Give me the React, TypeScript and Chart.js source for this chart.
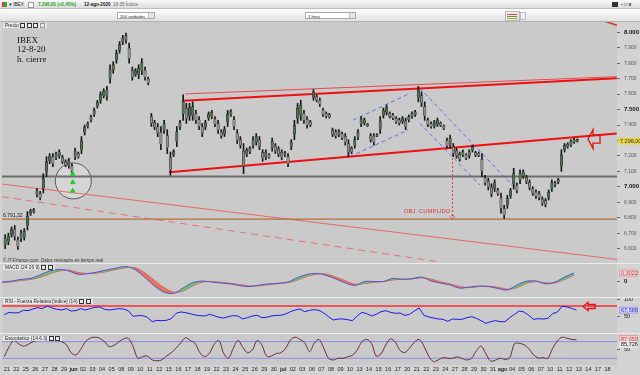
import React, { useEffect, useRef } from 'react';
import { Chart, registerables } from 'chart.js';

Chart.register(...registerables);

// ---------------- data (x = trading-day index, 0 = 21 May 2020) ----------------
const dayLabels = ['21','22','25','26','27','28','29','jun','02','03','04','05','08','09','10','11','12','15','16','17','18','19','22','23','24','25','26','29','30','jul','02','03','06','07','08','09','10','13','14','15','16','17','20','21','22','23','24','27','28','29','30','31','ago','04','05','06','07','10','11','12','13','14','17','18'];
const monthLabels = ['jun', 'jul', 'ago'];

// hourly price ranges grouped in thirds of a session; first slot = last third of 20 May
const slotStart = -1;
const slotLow = [
  6600, 6625, 6675, 6655, 6595, 6645, 6655, 6720, 6815, 6830, 6935,
  6915, 6960, 7065, 7150, 7130, 7175, 7185, 7150, 7130, 7120,
  7085, 7175, 7185, 7215, 7335, 7380, 7420, 7455, 7510, 7540,
  7575, 7560, 7670, 7735, 7800, 7865, 7920, 7930, 7800, 7690,
  7715, 7700, 7725, 7690, 7660, 7390, 7370, 7325, 7240, 7345,
  7215, 7075, 7195, 7260, 7370, 7430, 7410, 7430, 7430, 7410,
  7370, 7325, 7370, 7430, 7440, 7390, 7345, 7315, 7325, 7390,
  7455, 7370, 7280, 7250, 7085, 7195, 7215, 7250, 7270, 7240,
  7165, 7175, 7185, 7230, 7215, 7195, 7175, 7195, 7130, 7240,
  7305, 7410, 7430, 7410, 7380, 7390, 7560, 7550, 7520, 7455,
  7445, 7445, 7325, 7315, 7325, 7305, 7270, 7195, 7215, 7250,
  7305, 7390, 7400, 7390, 7290, 7270, 7325, 7345, 7445, 7465,
  7445, 7435, 7410, 7400, 7410, 7370, 7420, 7445, 7455, 7550,
  7520, 7430, 7390, 7380, 7380, 7390, 7390, 7370, 7250, 7250,
  7195, 7185, 7165, 7195, 7175, 7185, 7225, 7195, 7195, 7065,
  7010, 6980, 6935, 6970, 6945, 6830, 6795, 6860, 6925, 6985,
  6960, 7020, 7055, 7020, 6980, 6945, 6925, 6915, 6880, 6870,
  6915, 6970, 7000, 7020, 7100, 7225, 7250, 7260, 7280, 7290,
];
const slotHigh = [
  6690, 6700, 6740, 6750, 6675, 6720, 6730, 6840, 6855, 6860, 6990,
  6970, 7085, 7195, 7215, 7215, 7225, 7240, 7205, 7175, 7185,
  7150, 7250, 7225, 7325, 7400, 7420, 7465, 7510, 7560, 7615,
  7635, 7650, 7790, 7810, 7885, 7940, 7980, 7995, 7930, 7775,
  7765, 7790, 7830, 7775, 7710, 7475, 7430, 7410, 7390, 7430,
  7370, 7225, 7240, 7390, 7430, 7595, 7540, 7540, 7550, 7495,
  7455, 7410, 7430, 7485, 7495, 7455, 7430, 7370, 7390, 7495,
  7500, 7455, 7370, 7325, 7280, 7250, 7260, 7325, 7345, 7325,
  7240, 7240, 7215, 7315, 7280, 7260, 7240, 7230, 7215, 7305,
  7430, 7540, 7560, 7495, 7455, 7430, 7630, 7595, 7575, 7510,
  7485, 7475, 7380, 7370, 7370, 7355, 7345, 7305, 7260, 7325,
  7370, 7455, 7445, 7410, 7345, 7345, 7345, 7455, 7510, 7530,
  7485, 7475, 7455, 7445, 7455, 7445, 7465, 7485, 7495, 7650,
  7615, 7550, 7445, 7420, 7430, 7445, 7420, 7400, 7315, 7335,
  7280, 7250, 7225, 7240, 7215, 7240, 7270, 7230, 7225, 7215,
  7075, 7055, 7020, 7045, 6990, 6960, 6880, 6945, 6990, 7120,
  7025, 7110, 7110, 7075, 7045, 7000, 6980, 6970, 6935, 6925,
  6980, 7045, 7035, 7055, 7240, 7280, 7285, 7305, 7315, 7310,
];
const priceTicks = [6600, 6700, 6800, 6900, 7000, 7100, 7200, 7300, 7400, 7500, 7600, 7700, 7800, 7900, 8000];
const lastPrice = 7296;
const supportLevel = 7067;
const targetLevel = 6791.32;

// trend lines drawn on the chart: [dayIndex, price] end points
const upperChannelThick = [[18.48, 7557], [63.97, 7703]];
const upperChannelThin = [[18.69, 7601], [63.97, 7713]];
const lowerChannel = [[17.01, 7094], [63.97, 7345]];
const longSupport = [[-0.5, 7018], [64, 6530]];
const longSupportDashed = [[-0.5, 6936], [45.5, 6513]];
const topCornerLine = [[62.3, 8080], [64, 8045]];
const risingUpper = [[36.33, 7432], [42.28, 7605]];
const risingLower = [[35.99, 7195], [42.1, 7368]];
const fallingUpper = [[43.32, 7638], [53.1, 7005]];
const fallingLower = [[43.32, 7411], [49.61, 7012]];
const objectiveX = 46.75;
const objectiveRange = [7264, 6806];
const circleCenter = [6.98, 7038];
const greenArrows = [[6.92, 7083], [6.92, 7029], [6.92, 6974]];
const priceArrowTip = [60.96, 7309];

// indicators: MACD daily (day -1 .. 59, mid-session)
const macdValues = [-0.04, 0.00, 0.06, 0.10, 0.23, 0.38, 0.44, 0.38, 0.25, 0.28, 0.34, 0.42, 0.49, 0.55, 0.42, 0.13, -0.19, -0.42, -0.47, -0.26, -0.06, 0.00, -0.04, -0.08, -0.11, -0.18, -0.21, -0.15, -0.11, -0.08, -0.04, 0.13, 0.25, 0.29, 0.21, 0.08, -0.07, -0.17, -0.02, -0.02, -0.02, 0.10, 0.06, 0.09, 0.15, 0.00, -0.08, -0.15, -0.27, -0.23, -0.19, -0.21, -0.28, -0.34, -0.15, -0.01, 0.00, -0.11, -0.04, 0.15, 0.30];
const macdSignal = [-0.06, -0.03, 0.02, 0.06, 0.14, 0.27, 0.38, 0.41, 0.32, 0.28, 0.30, 0.36, 0.44, 0.50, 0.50, 0.30, 0.02, -0.25, -0.42, -0.38, -0.18, -0.04, -0.02, -0.05, -0.09, -0.14, -0.19, -0.18, -0.13, -0.10, -0.06, 0.04, 0.18, 0.26, 0.26, 0.15, 0.01, -0.12, -0.10, -0.04, -0.02, 0.04, 0.07, 0.08, 0.12, 0.07, -0.03, -0.11, -0.21, -0.25, -0.21, -0.20, -0.24, -0.31, -0.25, -0.09, -0.02, -0.07, -0.07, 0.06, 0.22];
const macdLast = 0.3022;

// RSI and stochastic, half-session samples (first = afternoon of 20 May)
const rsiValues = [54, 61, 59, 60, 67, 66, 71, 75, 72, 80, 74, 70, 68, 72, 65, 66, 72, 68, 72, 76, 77, 70, 68, 70, 72, 71, 66, 49, 51, 51, 46, 33, 37, 36, 37, 42, 58, 62, 60, 57, 53, 51, 50, 55, 51, 46, 44, 48, 51, 50, 41, 45, 50, 52, 45, 46, 50, 52, 52, 56, 63, 68, 71, 63, 67, 69, 67, 59, 48, 38, 41, 41, 39, 36, 50, 61, 57, 50, 55, 63, 66, 61, 58, 59, 52, 55, 65, 74, 52, 47, 44, 41, 40, 34, 41, 40, 40, 45, 48, 43, 36, 28, 33, 36, 33, 33, 45, 55, 65, 62, 52, 40, 42, 41, 43, 57, 62, 79, 77, 73, 67.6];
const rsiLast = 67.586;
const rsiLevel = 80;
const rsiArrowTip = [60.44, 78.4];
const stochValues = [26, 62, 84, 72, 64, 70, 80, 84, 86, 86, 86, 85, 80, 69, 40, 32, 52, 80, 93, 96, 92, 80, 62, 67, 79, 90, 92, 62, 20, 26, 28, 14, 11, 14, 28, 40, 56, 76, 94, 84, 74, 40, 26, 38, 70, 84, 38, 20, 56, 84, 60, 40, 50, 84, 68, 28, 28, 37, 40, 56, 86, 96, 88, 76, 44, 74, 88, 56, 20, 14, 20, 20, 25, 31, 50, 80, 88, 74, 28, 36, 68, 90, 78, 48, 41, 57, 78, 88, 64, 28, 8, 14, 22, 20, 20, 25, 19, 14, 20, 47, 64, 36, 10, 13, 20, 16, 22, 73, 74, 69, 55, 32, 21, 22, 20, 56, 82, 96, 92, 88, 87];
const stochK = 87.05;
const stochD = 85.726;
const stochLevels = [80, 20];

// ---------------- styling ----------------
const NARROW = "'Liberation Sans Narrow','Liberation Sans',Arial,sans-serif";
const PLOT_BG = '#cacaca';
const AXIS_BG = '#d3d3d3';
const X_MIN = -0.5;
const X_MAX = 64;
const AXIS_W = 23;

const fmtThousands = (v: number) => Math.round(v).toString().replace(/\B(?=(\d{3})+(?!\d))/g, '.');
const fmtDec = (v: number, d: number) => v.toFixed(d).replace('.', ',');
const pts = (arr: number[][]) => arr.map(([x, y]) => ({ x, y }));

const bgPlugin = {
  id: 'panelBg',
  beforeDraw(chart: any) {
    const { ctx, chartArea: a, width, height } = chart;
    ctx.save();
    ctx.fillStyle = AXIS_BG;
    ctx.fillRect(0, 0, width, height);
    ctx.fillStyle = PLOT_BG;
    ctx.fillRect(a.left, a.top, a.right - a.left, a.bottom - a.top);
    ctx.restore();
  },
};

const baseOptions = () => ({
  responsive: false, animation: false, devicePixelRatio: 1, events: [],
  layout: { autoPadding: false, padding: { left: 2, right: 0, top: 0, bottom: 0 } },
  plugins: { legend: { display: false }, tooltip: { enabled: false } },
});

function hiddenX() {
  return { type: 'linear', min: X_MIN, max: X_MAX, offset: false, display: false };
}

function rightY(min: number, max: number, ticks: number[], label: (v: number) => string, font?: any, color?: any) {
  return {
    type: 'linear', position: 'right', min, max,
    afterBuildTicks: (s: any) => { s.ticks = ticks.map((v) => ({ value: v })); },
    afterFit: (s: any) => { s.width = AXIS_W; s.paddingTop = 0; s.paddingBottom = 0; },
    grid: { drawOnChartArea: false, drawTicks: true, tickLength: 3, color: '#6a6a6a' },
    border: { display: false },
    ticks: { padding: 4, callback: (v: any) => label(Number(v)), font: font || { size: 5.5, family: NARROW }, color: color || '#333' },
  };
}

function line(data: any[], color: string, width: number, dash: number[] = [], order = 3) {
  return { type: 'line', data, borderColor: color, borderWidth: width, borderDash: dash, pointRadius: 0, fill: false, tension: 0, order };
}

function valueBox(chart: any, value: number, text: string, fill: string, stroke: string, color: string, dy = 0) {
  const { ctx, scales, chartArea } = chart;
  const py = scales.y.getPixelForValue(value) + dy;
  const x0 = chartArea.right + 2;
  ctx.save();
  ctx.fillStyle = fill;
  ctx.fillRect(x0, py - 3.5, 19, 7);
  if (stroke) {
    ctx.strokeStyle = stroke;
    ctx.lineWidth = 0.7;
    ctx.strokeRect(x0 + 0.5, py - 3, 18, 6);
  }
  ctx.fillStyle = color;
  ctx.font = `5.5px ${NARROW}`;
  ctx.textBaseline = 'middle';
  ctx.textAlign = 'left';
  ctx.fillText(text, x0 + 2, py + 0.3);
  ctx.restore();
}

function leftArrow(ctx: any, tx: number, ty: number, headLen: number, headHalf: number, shaftHalf: number, shaftLen: number) {
  ctx.save();
  ctx.strokeStyle = '#e01010';
  ctx.lineWidth = 1.3;
  ctx.beginPath();
  ctx.moveTo(tx, ty);
  ctx.lineTo(tx + headLen, ty - headHalf);
  ctx.lineTo(tx + headLen, ty - shaftHalf);
  ctx.lineTo(tx + headLen + shaftLen, ty - shaftHalf);
  ctx.lineTo(tx + headLen + shaftLen, ty + shaftHalf);
  ctx.lineTo(tx + headLen, ty + shaftHalf);
  ctx.lineTo(tx + headLen, ty + headHalf);
  ctx.closePath();
  ctx.stroke();
  ctx.restore();
}

const mainNotes = {
  id: 'mainNotes',
  afterDatasetsDraw(chart: any) {
    const { ctx, scales: { x, y }, chartArea } = chart;
    ctx.save();
    ctx.font = `5px ${NARROW}`;
    ctx.fillStyle = '#222';
    ctx.textAlign = 'left';
    ctx.textBaseline = 'bottom';
    ctx.fillText(fmtDec(targetLevel, 2).replace(/^(\d)(\d{3})/, '$1.$2'), chartArea.left + 1, y.getPixelForValue(targetLevel) - 1);

    const ox = x.getPixelForValue(objectiveX);
    const oy = y.getPixelForValue(objectiveRange[1]);
    ctx.font = '6px Arial';
    ctx.fillStyle = '#e03a3a';
    ctx.textAlign = 'right';
    ctx.fillText('OBJ. CUMPLIDO', ox - 2, oy - 2);
    ctx.strokeStyle = '#e03a3a';
    ctx.lineWidth = 0.8;
    ctx.beginPath();
    ctx.moveTo(ox, oy - 2); ctx.lineTo(ox + 2, oy); ctx.lineTo(ox, oy + 2); ctx.lineTo(ox - 2, oy); ctx.closePath();
    ctx.stroke();

    leftArrow(ctx, x.getPixelForValue(priceArrowTip[0]), y.getPixelForValue(priceArrowTip[1]), 5, 9.5, 4, 7);

    const ly = y.getPixelForValue(lastPrice);
    ctx.fillStyle = '#e6d64c';
    ctx.fillRect(chartArea.right + 1, ly - 3.5, 22, 7);
    ctx.fillStyle = '#333';
    ctx.font = `5.5px ${NARROW}`;
    ctx.textAlign = 'left';
    ctx.textBaseline = 'middle';
    ctx.fillText(fmtDec(lastPrice, 2).replace(/^(\d)(\d{3})/, '$1.$2'), chartArea.right + 3, ly + 0.3);
    ctx.restore();
  },
};

function mainConfig(): any {
  const xs = slotLow.map((_, k) => (slotStart + k + 0.5) / 3);
  const wicks = slotLow.map((lo, k) => ({ x: xs[k], y: [lo, slotHigh[k]] }));
  const bodies = slotLow.map((lo, k) => {
    const q = (slotHigh[k] - lo) / 4;
    return { x: xs[k], y: [lo + q, slotHigh[k] - q] };
  });
  const colors = slotLow.map((lo, k) => {
    const mid = (lo + slotHigh[k]) / 2;
    const prev = k > 0 ? (slotLow[k - 1] + slotHigh[k - 1]) / 2 : mid;
    return mid >= prev ? '#4f7555' : '#8f8f8f';
  });
  const bold = (c: any) => c.tick && c.tick.value % 500 === 0;
  return {
    type: 'bar',
    data: {
      datasets: [
        { type: 'bar', data: bodies, backgroundColor: colors, borderColor: '#1e1e1e', borderWidth: 0.5, barThickness: 2.4, order: 0 },
        { type: 'bar', data: wicks, backgroundColor: '#161616', borderWidth: 0, barThickness: 1, order: 1 },
        line(pts([[X_MIN, supportLevel], [X_MAX, supportLevel]]), '#6c6c6c', 2),
        line(pts([[X_MIN, targetLevel], [X_MAX, targetLevel]]), '#b06e3c', 1.2),
        line(pts(longSupport), '#e46a6a', 1),
        line(pts(longSupportDashed), '#e87272', 1, [7, 5]),
        line(pts(upperChannelThin), '#e84a4a', 1),
        line(pts(upperChannelThick), '#ee1010', 2),
        line(pts(lowerChannel), '#ee1010', 2),
        line(pts(topCornerLine), '#e02a2a', 1.5),
        line(pts(risingUpper), '#6b6bea', 1, [4, 3]),
        line(pts(risingLower), '#6b6bea', 1, [4, 3]),
        line(pts(fallingUpper), '#6b6bea', 1, [4, 3]),
        line(pts(fallingLower), '#6b6bea', 1, [4, 3]),
        line(pts([[objectiveX, objectiveRange[0]], [objectiveX, objectiveRange[1]]]), '#e04040', 1, [2, 2]),
        { type: 'line', data: pts([circleCenter]), showLine: false, pointRadius: 18, pointBackgroundColor: 'rgba(236,236,236,0.35)', pointBorderColor: '#5a5a5a', pointBorderWidth: 1, order: 4 },
        { type: 'line', data: pts(greenArrows), showLine: false, pointStyle: 'triangle', pointRadius: 2.6, pointBackgroundColor: '#22d022', pointBorderColor: '#22d022', order: -1 },
      ],
    },
    options: {
      ...baseOptions(),
      datasets: { bar: { grouped: false } },
      scales: {
        x: hiddenX(),
        y: rightY(6506.8, 8066.7, priceTicks, fmtThousands,
          (c: any) => (bold(c) ? { size: 6, weight: 'bold', family: NARROW } : { size: 5, family: NARROW }),
          (c: any) => (bold(c) ? '#111' : '#555')),
      },
    },
    plugins: [bgPlugin, mainNotes],
  };
}

function macdConfig(): any {
  return {
    type: 'line',
    data: {
      datasets: [
        { data: macdValues.map((v, i) => ({ x: i - 1 + 0.5, y: v })), borderColor: '#5656cc', borderWidth: 1, pointRadius: 0, tension: 0.3,
          fill: { target: 1, above: 'rgba(96,196,110,0.95)', below: 'rgba(232,110,92,0.95)' } },
        { data: macdSignal.map((v, i) => ({ x: i - 1 + 0.5, y: v })), borderColor: '#c85a5a', borderWidth: 1, pointRadius: 0, tension: 0.3, fill: false },
      ],
    },
    options: {
      ...baseOptions(),
      scales: { x: hiddenX(), y: rightY(-0.604, 0.642, [0], (v) => fmtDec(v, 0), { size: 6, weight: 'bold', family: NARROW }, '#111') },
    },
    plugins: [bgPlugin, { id: 'macdBox', afterDatasetsDraw: (c: any) => valueBox(c, macdLast, fmtDec(macdLast, 4), '#f0d2d2', '#d88', '#c04848') }],
  };
}

function rsiConfig(): any {
  return {
    type: 'line',
    data: {
      datasets: [
        { data: rsiValues.map((v, k) => ({ x: (k - 1 + 0.5) / 2, y: v })), borderColor: '#1818f0', borderWidth: 1, pointRadius: 0, tension: 0, fill: false, order: 0 },
        line(pts([[X_MIN, rsiLevel], [X_MAX, rsiLevel]]), '#ee5656', 2),
      ],
    },
    options: {
      ...baseOptions(),
      scales: { x: hiddenX(), y: rightY(-0.9, 103.9, [50, 100], (v) => String(v), { size: 5.5, family: NARROW }, '#222') },
    },
    plugins: [bgPlugin, {
      id: 'rsiNotes',
      afterDatasetsDraw: (c: any) => {
        valueBox(c, rsiLast, fmtDec(rsiLast, 3), '#d4d4f2', '#8a8ae0', '#2a2ad0');
        leftArrow(c.ctx, c.scales.x.getPixelForValue(rsiArrowTip[0]), c.scales.y.getPixelForValue(rsiArrowTip[1]), 5, 4.2, 2, 7);
      },
    }],
  };
}

function stochConfig(): any {
  return {
    type: 'line',
    data: {
      datasets: [
        { data: stochValues.map((v, k) => ({ x: (k - 1 + 0.5) / 2, y: v })), borderColor: '#6a2e2e', borderWidth: 1, pointRadius: 0, tension: 0.35, fill: false, order: 0 },
        ...stochLevels.map((lv) => line(pts([[X_MIN, lv], [X_MAX, lv]]), '#8c8ce8', 1)),
      ],
    },
    options: {
      ...baseOptions(),
      scales: {
        x: {
          type: 'linear', min: X_MIN, max: X_MAX, offset: false, position: 'bottom',
          afterBuildTicks: (s: any) => { s.ticks = dayLabels.map((_, i) => ({ value: i })); },
          afterFit: (s: any) => { s.height = 10; s.paddingLeft = 0; s.paddingRight = 0; },
          grid: { display: false, drawTicks: false, tickLength: 0 }, border: { display: false },
          ticks: {
            autoSkip: false, maxRotation: 0, minRotation: 0, padding: 1,
            callback: (v: any) => dayLabels[Math.round(Number(v))] ?? '',
            font: (c: any) => ({ size: 5.5, family: NARROW, weight: c.tick && monthLabels.includes(dayLabels[c.tick.value]) ? 'bold' : 'normal' }),
            color: '#222',
          },
        },
        y: rightY(-4.3, 107.6, [50], (v) => String(v), { size: 5.5, family: NARROW }, '#222'),
      },
    },
    plugins: [bgPlugin, {
      id: 'stochNotes',
      afterDatasetsDraw: (c: any) => {
        valueBox(c, stochK, fmtDec(stochK, 3), '#f0d2d2', '#d88', '#c04848', -1);
        valueBox(c, stochD, fmtDec(stochD, 3), '#e4e4e4', '', '#222', 4.5);
      },
    }],
  };
}

// ---------------- component ----------------
const tiny: React.CSSProperties = { position: 'absolute', font: '4.6px Arial', lineHeight: '5px', whiteSpace: 'nowrap', color: '#222' };
const tag: React.CSSProperties = { position: 'absolute', left: 3, font: '4.8px Arial', lineHeight: '5.5px', color: '#222', background: 'rgba(236,236,236,0.9)', padding: '0 2px', whiteSpace: 'nowrap' };
const iconBox: React.CSSProperties = { display: 'inline-block', width: 3, height: 3, border: '0.8px solid #333', marginLeft: 1.5, verticalAlign: 'middle' };

export default function App() {
  const mainRef = useRef<HTMLCanvasElement>(null);
  const macdRef = useRef<HTMLCanvasElement>(null);
  const rsiRef = useRef<HTMLCanvasElement>(null);
  const stochRef = useRef<HTMLCanvasElement>(null);

  useEffect(() => {
    document.body.style.margin = '0';
    const charts = [
      new Chart(mainRef.current as HTMLCanvasElement, mainConfig()),
      new Chart(macdRef.current as HTMLCanvasElement, macdConfig()),
      new Chart(rsiRef.current as HTMLCanvasElement, rsiConfig()),
      new Chart(stochRef.current as HTMLCanvasElement, stochConfig()),
    ];
    return () => charts.forEach((c) => c.destroy());
  }, []);

  const cv = (top: number, h: number): React.CSSProperties => ({ position: 'absolute', left: 0, top, width: 640, height: h });

  return (
    <div style={{ position: 'fixed', left: 0, top: 0, width: 640, height: 375, background: '#ececec', overflow: 'hidden' }}>
      {/* title bar */}
      <div style={{ position: 'absolute', left: 0, top: 0, width: 640, height: 9, background: 'linear-gradient(#f8f8f8,#dcdcdc)', borderBottom: '1px solid #bdbdbd', boxSizing: 'border-box' }}>
        <span style={{ position: 'absolute', left: 2, top: 2, width: 5, height: 5, background: 'linear-gradient(90deg,#d33 0 50%,#3a3 50% 100%)' }} />
        <span style={{ ...tiny, left: 9, top: 2 }}>▾ IBEX</span>
        <span style={{ position: 'absolute', left: 28, top: 2, width: 4, height: 4, border: '1px solid #999', background: '#fff' }} />
        <span style={{ ...tiny, left: 38, top: 2, color: '#1f9a1f', fontWeight: 'bold' }}>7.296,00 (+0,45%)</span>
        <span style={{ ...tiny, left: 84, top: 2, fontWeight: 'bold' }}>12-ago-2020</span>
        <span style={{ ...tiny, left: 113, top: 2, color: '#666' }}>18:35 Índice</span>
        <span style={{ position: 'absolute', left: 612, top: 2, width: 6, height: 5, background: '#333' }} />
        <span style={{ ...tiny, left: 621, top: 1.5, font: 'bold 5px Arial' }}>- □ x</span>
      </div>
      {/* tool bar */}
      <div style={{ position: 'absolute', left: 0, top: 9, width: 640, height: 13, background: 'linear-gradient(#fdfdfd,#e2e2e2)', borderBottom: '1px solid #b3b3b3', boxSizing: 'border-box' }}>
        <div style={{ position: 'absolute', left: 117, top: 3, width: 38, height: 7, border: '1px solid #a8a8a8', background: '#fff', boxSizing: 'border-box' }}>
          <span style={{ ...tiny, left: 2, top: 0.5, font: '4.2px Arial' }}>200 unidades</span>
          <span style={{ position: 'absolute', right: 0, top: 0, width: 5, height: 5, background: '#e4e4e4', borderLeft: '1px solid #bbb' }} />
        </div>
        <div style={{ position: 'absolute', left: 305, top: 3, width: 51, height: 7, border: '1px solid #a8a8a8', background: '#fff', boxSizing: 'border-box' }}>
          <span style={{ ...tiny, left: 2, top: 0.5, font: '4.2px Arial' }}>1 hora</span>
          <span style={{ position: 'absolute', right: 0, top: 0, width: 5, height: 5, background: '#e4e4e4', borderLeft: '1px solid #bbb' }} />
        </div>
        <div style={{ position: 'absolute', left: 505, top: 2, width: 13, height: 8, border: '1px solid #bbb', background: 'linear-gradient(135deg,#f4f4f4,#e0e0e0)' }}>
          <span style={{ position: 'absolute', left: 1, top: 2, width: 10, height: 1, background: '#d44' }} />
          <span style={{ position: 'absolute', left: 1, top: 4, width: 10, height: 1, background: '#4a4' }} />
          <span style={{ position: 'absolute', left: 1, top: 6, width: 10, height: 1, background: '#aa3' }} />
        </div>
        <span style={{ position: 'absolute', left: 520, top: 3, width: 4, height: 6, background: '#f0f0f0', border: '1px solid #bbb' }} />
      </div>

      <canvas ref={mainRef} width={640} height={241} style={cv(22, 241)} />
      <canvas ref={macdRef} width={640} height={33} style={cv(264, 33)} />
      <canvas ref={rsiRef} width={640} height={35} style={cv(298, 35)} />
      <canvas ref={stochRef} width={640} height={41} style={cv(334, 41)} />

      {/* overlays */}
      <div style={{ ...tag, top: 22.5 }}>Precio<span style={iconBox} /><span style={iconBox} /><span style={iconBox} /><span style={{ ...iconBox, borderColor: '#999' }} /></div>
      <div style={{ position: 'absolute', left: 17, top: 36, font: '9px "Liberation Serif", serif', lineHeight: '9.3px', color: '#111' }}>
        <div>IBEX</div>
        <div>12-8-20</div>
        <div>h. cierre</div>
      </div>
      <div style={{ position: 'absolute', left: 3, top: 257.5, font: 'italic 4.5px Arial', color: '#333', whiteSpace: 'nowrap' }}>© IT-Finance.com. Datos revisados en tiempo real</div>
      <div style={{ ...tag, top: 264.5 }}>MACD (24 26 9)<span style={iconBox} /><span style={iconBox} /></div>
      <div style={{ ...tag, top: 298.5 }}>RSI - Fuerza Relativa [índice] (14)<span style={iconBox} /><span style={iconBox} /></div>
      <div style={{ ...tag, top: 335.5 }}>Estocástico (14 6 3)<span style={iconBox} /><span style={iconBox} /></div>
    </div>
  );
}
